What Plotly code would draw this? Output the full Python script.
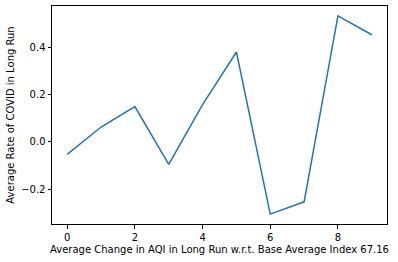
import plotly.graph_objects as go

x_vals = [0, 1, 2, 3, 4, 5, 6, 7, 8, 9]
y_vals = [-0.053, 0.063, 0.150, -0.095, 0.158, 0.381, -0.306, -0.254, 0.534, 0.454]
x_ticks = [0, 2, 4, 6, 8]
y_ticks = [-0.2, 0.0, 0.2, 0.4]
y_tick_text = ["\u22120.2", "0.0", "0.2", "0.4"]

fig = go.Figure()
fig.add_trace(go.Scatter(x=x_vals, y=y_vals, mode="lines",
                         line=dict(color="#1f77b4", width=1.5),
                         hoverinfo="skip"))

axis_common = dict(showline=True, linecolor="black", linewidth=1, mirror=True,
                   showgrid=False, zeroline=False, ticks="outside", ticklen=3.5,
                   tickwidth=1, tickcolor="black", automargin=False,
                   tickfont=dict(family="DejaVu Sans", size=10, color="black"))

fig.update_layout(
    width=398, height=262,
    margin=dict(l=52, r=11, t=6, b=38),
    paper_bgcolor="white", plot_bgcolor="white",
    showlegend=False,
    font=dict(family="DejaVu Sans", size=10, color="black"),
    xaxis=dict(range=[-0.45, 9.45], tickvals=x_ticks,
               title=dict(text="Average Change in AQI in Long Run w.r.t. Base Average Index 67.16",
                          font=dict(size=10), standoff=4),
               **axis_common),
    yaxis=dict(range=[-0.348, 0.576], tickvals=y_ticks, ticktext=y_tick_text,
               title=dict(text="Average Rate of COVID in Long Run", font=dict(size=10), standoff=4),
               **axis_common),
)

fig.write_html("out.html", config={"displayModeBar": False},
               post_script="document.body.style.margin='0';")
